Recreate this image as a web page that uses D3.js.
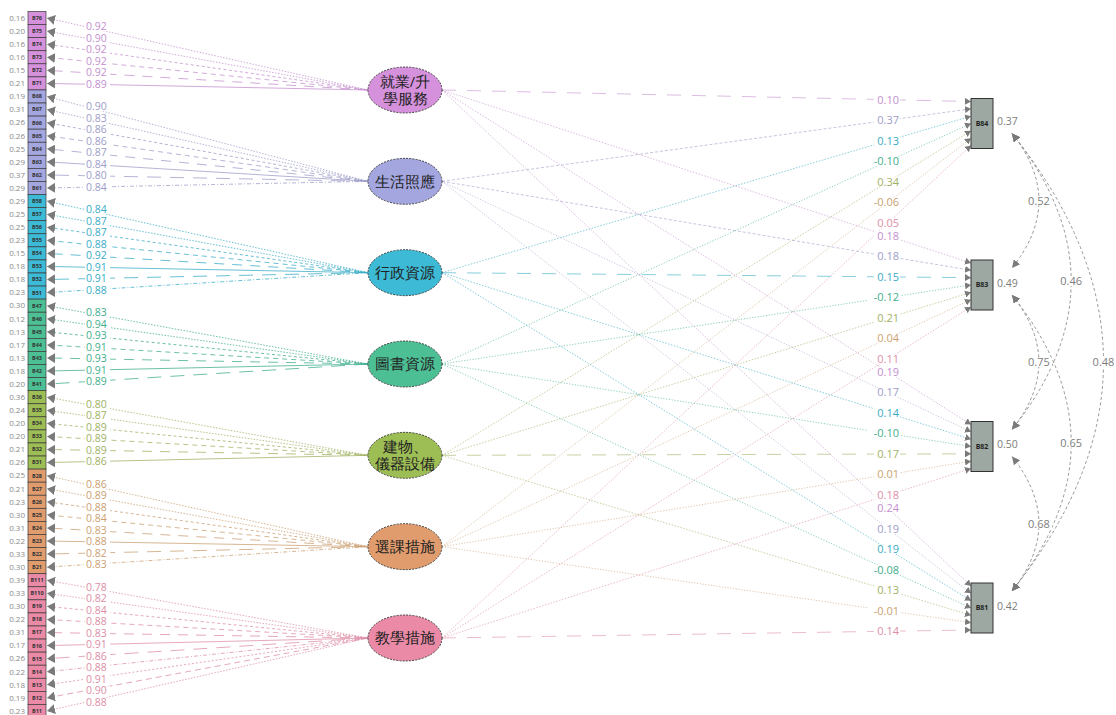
<!DOCTYPE html>
<html>
<head>
<meta charset="utf-8">
<script src="https://cdn.jsdelivr.net/npm/d3@7"></script>
<style>
  body { margin: 0; background: #fff; }
  svg { display: block; }
  text { font-family: "Open Sans", "Noto Sans", sans-serif; }
</style>
</head>
<body>
<svg></svg>
<script>
// ---- data ----
const latents = ["就業/升學服務", "生活照應", "行政資源", "圖書資源", "建物、儀器設備", "選課措施", "教學措施"];
const latentLines = [["就業/升", "學服務"], ["生活照應"], ["行政資源"], ["圖書資源"], ["建物、", "儀器設備"], ["選課措施"], ["教學措施"]];

const indicators = [
  ["B76", "B75", "B74", "B73", "B72", "B71"],
  ["B68", "B67", "B66", "B65", "B64", "B63", "B62", "B61"],
  ["B58", "B57", "B56", "B55", "B54", "B53", "B52", "B51"],
  ["B47", "B46", "B45", "B44", "B43", "B42", "B41"],
  ["B36", "B35", "B34", "B33", "B32", "B31"],
  ["B28", "B27", "B26", "B25", "B24", "B23", "B22", "B21"],
  ["B111", "B110", "B19", "B18", "B17", "B16", "B15", "B14", "B13", "B12", "B11"]
];
const loadings = [
  [0.92, 0.90, 0.92, 0.92, 0.92, 0.89],
  [0.90, 0.83, 0.86, 0.86, 0.87, 0.84, 0.80, 0.84],
  [0.84, 0.87, 0.87, 0.88, 0.92, 0.91, 0.91, 0.88],
  [0.83, 0.94, 0.93, 0.91, 0.93, 0.91, 0.89],
  [0.80, 0.87, 0.89, 0.89, 0.89, 0.86],
  [0.86, 0.89, 0.88, 0.84, 0.83, 0.88, 0.82, 0.83],
  [0.78, 0.82, 0.84, 0.88, 0.83, 0.91, 0.86, 0.88, 0.91, 0.90, 0.88]
];
const residuals = [
  [0.16, 0.20, 0.16, 0.16, 0.15, 0.21],
  [0.19, 0.31, 0.26, 0.26, 0.25, 0.29, 0.37, 0.29],
  [0.29, 0.25, 0.25, 0.23, 0.15, 0.18, 0.18, 0.23],
  [0.30, 0.12, 0.13, 0.17, 0.13, 0.18, 0.20],
  [0.36, 0.24, 0.20, 0.20, 0.21, 0.26],
  [0.25, 0.21, 0.23, 0.30, 0.31, 0.22, 0.33, 0.30],
  [0.39, 0.33, 0.30, 0.22, 0.31, 0.17, 0.26, 0.22, 0.18, 0.19, 0.23]
];

const outcomes = ["B84", "B83", "B82", "B81"];
const outcomeResid = [0.37, 0.49, 0.50, 0.42];
// rows = outcome, columns = latent (same order as latents)
const paths = [
  [0.10, 0.37, 0.13, -0.10, 0.34, -0.06, 0.05],
  [0.18, 0.18, 0.15, -0.12, 0.21, 0.04, 0.11],
  [0.19, 0.17, 0.14, -0.10, 0.17, 0.01, 0.18],
  [0.24, 0.19, 0.19, -0.08, 0.13, -0.01, 0.14]
];
const covFrom = ["B84", "B84", "B84", "B83", "B83", "B82"];
const covTo = ["B83", "B82", "B81", "B82", "B81", "B81"];
const covValues = [0.52, 0.46, 0.48, 0.75, 0.65, 0.68];

// ---- styling ----
const fills = ["#d591dc", "#a4a6e0", "#3cbad6", "#4dbf95", "#9dbd55", "#e19c6e", "#ea8aa7"];
const inks = ["#c48fcf", "#9d9dc9", "#38acc6", "#3fae8c", "#a1b163", "#cb9f72", "#dd8ea6"];
const loadDash = ["1.5,1.5", "1.5,1.5", "3,2.5", "5,4", "10,8", "", "14,9", "4,2,1,2", "2,2", "6,4", "1.5,1.5"];
const fmt = (v) => v.toFixed(2);

const width = 1116;
const height = 715;

const svg = d3.select("svg").attr("width", width).attr("height", height);

// scales
const rows = [];
indicators.forEach((g, gi) => g.forEach((name, i) => {
  rows.push({ name: name, g: gi, i: i, load: loadings[gi][i], resid: residuals[gi][i] });
}));

const yInd = d3.scaleBand().domain(rows.map((d) => d.name)).range([11.5, 717.5]);
const yLat = d3.scalePoint().domain(latents).range([90, 638]);
const yOut = d3.scalePoint().domain(outcomes).range([123.5, 608]);

const indX = 28, indW = 18, tipX = 47;
const latX = 405, latRx = 37, latRy = 23;
const outX = 971, outW = 22, outH = 50;

const indY = (d) => yInd(d.name) + yInd.bandwidth() / 2;

// markers
const defs = svg.append("defs");
const marker = (id, w, h, orient) => {
  defs.append("marker")
    .attr("id", id)
    .attr("markerUnits", "userSpaceOnUse")
    .attr("markerWidth", w).attr("markerHeight", h)
    .attr("refX", w).attr("refY", h / 2)
    .attr("orient", orient)
    .append("path")
    .attr("d", `M0,0L${w},${h / 2}L0,${h}Z`)
    .attr("fill", "#7a7a7a");
};
marker("arrL", 8, 10, "auto");
marker("arrS", 6, 7, "auto");
marker("arrC", 8, 8, "auto-start-reverse");

// ---- loading lines ----
svg.append("g").selectAll("path")
  .data(rows)
  .enter()
  .append("path")
  .attr("d", (d) => `M${latX - latRx},${yLat(latents[d.g])}L${tipX},${indY(d)}`)
  .attr("fill", "none")
  .attr("stroke", (d) => inks[d.g])
  .attr("stroke-opacity", 0.85)
  .attr("stroke-width", 0.9)
  .attr("stroke-dasharray", (d) => loadDash[d.i % loadDash.length])
  .attr("marker-end", "url(#arrL)");

// ---- structural lines ----
const links = [];
outcomes.forEach((o, k) => latents.forEach((l, j) => {
  const y0 = yLat(l);
  const y1 = yOut(o) - outH / 2 + 3 + j * (outH - 6) / 6;
  links.push({ o: k, j: j, v: paths[k][j], x0: latX + latRx, y0: y0, x1: outX, y1: y1 });
}));

// nearly level paths are long-dashed, the rest fine dotted / short dashed
const pathDash = (d) => {
  const slope = Math.abs(d.y1 - d.y0);
  if (slope < 30) return "14,11";
  if (d.j === 1 && d.o < 2) return "3,2";
  return d.j % 2 ? "1.2,1.6" : "1.5,1.5";
};

svg.append("g").selectAll("path")
  .data(links)
  .enter()
  .append("path")
  .attr("d", (d) => `M${d.x0},${d.y0}L${d.x1},${d.y1}`)
  .attr("fill", "none")
  .attr("stroke", (d) => inks[d.j])
  .attr("stroke-opacity", 0.75)
  .attr("stroke-width", 0.8)
  .attr("stroke-dasharray", pathDash)
  .attr("marker-end", "url(#arrS)");

// ---- covariance arcs ----
const cx0 = 1012;
const covs = covValues.map((v, c) => {
  const y1 = yOut(covFrom[c]) + 10;
  const y2 = yOut(covTo[c]) - 17;
  return { v: v, y1: y1, y2: y2, bulge: (y2 - y1) * 0.2 };
});
svg.append("g").selectAll("path")
  .data(covs)
  .enter()
  .append("path")
  .attr("d", (d) => `M${cx0},${d.y1}Q${cx0 + 2 * d.bulge},${(d.y1 + d.y2) / 2} ${cx0},${d.y2}`)
  .attr("fill", "none")
  .attr("stroke", "#8a8a8a")
  .attr("stroke-width", 0.9)
  .attr("stroke-dasharray", "3,2.5")
  .attr("marker-start", "url(#arrC)")
  .attr("marker-end", "url(#arrC)");

// label helper with a white patch behind
const addLabel = (g, x, y, txt, color, size, anchor) => {
  const w = txt.length * size * 0.55 + 2;
  const left = anchor === "end" ? x - w + 1 : anchor === "start" ? x - 1 : x - w / 2;
  g.append("rect")
    .attr("x", left).attr("y", y - size * 0.42)
    .attr("width", w).attr("height", size * 0.84)
    .attr("fill", "#fff");
  g.append("text")
    .attr("x", x).attr("y", y)
    .attr("dy", "0.35em")
    .attr("text-anchor", anchor)
    .attr("font-size", size)
    .attr("fill", color)
    .text(txt);
};

// loading labels (left edge sits on the line at x = 86)
const gLoadLab = svg.append("g");
rows.forEach((d) => {
  const lx = latX - latRx, ly = yLat(latents[d.g]);
  const f = (86 - tipX) / (lx - tipX);
  const iy = indY(d);
  addLabel(gLoadLab, 86, iy + f * (ly - iy), fmt(d.load), inks[d.g], 10.5, "start");
});

// structural labels (on their line at x = 888)
const gPathLab = svg.append("g");
links.forEach((d) => {
  const f = (888 - d.x0) / (d.x1 - d.x0);
  addLabel(gPathLab, 899, d.y0 + f * (d.y1 - d.y0), fmt(d.v), inks[d.j], 11, "end");
});

// covariance labels
const gCovLab = svg.append("g");
covs.forEach((d) => {
  addLabel(gCovLab, cx0 + d.bulge, (d.y1 + d.y2) / 2, fmt(d.v), "#7d7d7d", 11, "middle");
});

// ---- indicator boxes ----
const gInd = svg.append("g");
gInd.selectAll("rect")
  .data(rows)
  .enter()
  .append("rect")
  .attr("x", indX)
  .attr("y", (d) => yInd(d.name))
  .attr("width", indW)
  .attr("height", yInd.bandwidth())
  .attr("fill", (d) => fills[d.g])
  .attr("stroke", "#3a3a3a")
  .attr("stroke-width", 0.7);

gInd.selectAll("text.name")
  .data(rows)
  .enter()
  .append("text")
  .attr("class", "name")
  .attr("x", indX + indW / 2)
  .attr("y", indY)
  .attr("dy", "0.35em")
  .attr("text-anchor", "middle")
  .attr("font-size", 5.5)
  .attr("font-weight", 700)
  .attr("fill", "#333")
  .text((d) => d.name);

gInd.selectAll("text.res")
  .data(rows)
  .enter()
  .append("text")
  .attr("class", "res")
  .attr("x", 25)
  .attr("y", indY)
  .attr("dy", "0.35em")
  .attr("text-anchor", "end")
  .attr("font-size", 8)
  .attr("fill", "#8a8a8a")
  .text((d) => fmt(d.resid));

// ---- latent ellipses ----
const gLat = svg.append("g");
latents.forEach((l, j) => {
  const cy = yLat(l);
  gLat.append("ellipse")
    .attr("cx", latX).attr("cy", cy)
    .attr("rx", latRx).attr("ry", latRy)
    .attr("fill", fills[j])
    .attr("stroke", "#333")
    .attr("stroke-width", 0.9)
    .attr("stroke-dasharray", "2,1.2");
  const lines = latentLines[j];
  lines.forEach((t, n) => {
    gLat.append("text")
      .attr("x", latX)
      .attr("y", cy + (n - (lines.length - 1) / 2) * 17)
      .attr("dy", "0.36em")
      .attr("text-anchor", "middle")
      .attr("font-size", 14.5)
      .attr("font-family", "'Noto Sans CJK TC', sans-serif")
      .attr("fill", "#222")
      .text(t);
  });
});

// ---- outcome boxes ----
const gOut = svg.append("g");
outcomes.forEach((o, k) => {
  const cy = yOut(o);
  gOut.append("rect")
    .attr("x", outX).attr("y", cy - outH / 2)
    .attr("width", outW).attr("height", outH)
    .attr("fill", "#9da8a3")
    .attr("stroke", "#333")
    .attr("stroke-width", 1);
  gOut.append("text")
    .attr("x", outX + outW / 2).attr("y", cy)
    .attr("dy", "0.35em")
    .attr("text-anchor", "middle")
    .attr("font-size", 7)
    .attr("font-weight", 700)
    .attr("fill", "#222")
    .text(o);
  gOut.append("text")
    .attr("x", outX + outW + 4).attr("y", cy - 2)
    .attr("dy", "0.35em")
    .attr("font-size", 10.5)
    .attr("fill", "#7d7d7d")
    .text(fmt(outcomeResid[k]));
});
</script>
</body>
</html>
